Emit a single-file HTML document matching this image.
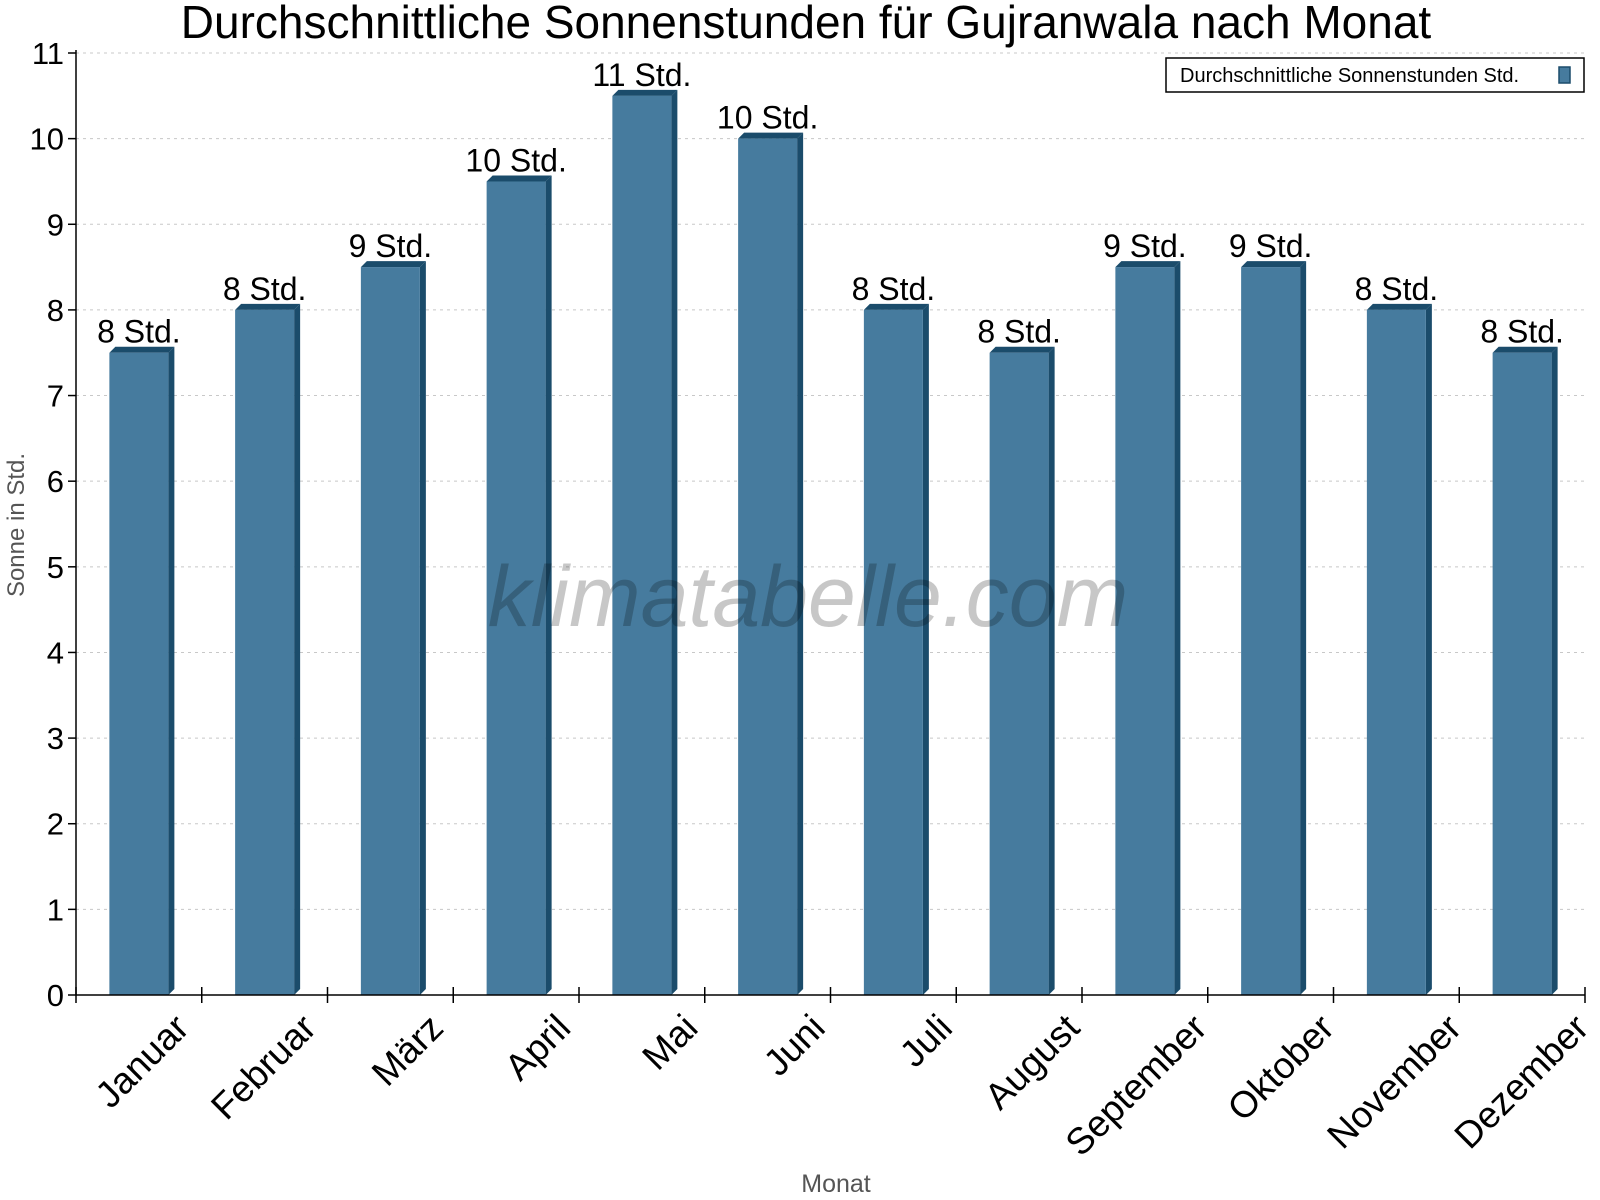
<!DOCTYPE html>
<html><head><meta charset="utf-8"><style>
html,body{margin:0;padding:0;background:#fff;}
svg{display:block;font-family:"Liberation Sans",Arial,sans-serif;}
</style></head><body>
<svg id="chart" width="1600" height="1200" viewBox="0 0 1600 1200">
<text x="806" y="38" font-size="46" text-anchor="middle" fill="#000">Durchschnittliche Sonnenstunden für Gujranwala nach Monat</text>
<g id="grid"></g>
<text x="0" y="0" transform="translate(24,525) rotate(-90)" font-size="24" fill="#555" text-anchor="middle">Sonne in Std.</text>
<text x="836" y="1192" font-size="25" fill="#555" text-anchor="middle">Monat</text>
<g id="bars"></g>
<g id="axes"></g>
<text x="808" y="626" font-size="86" font-style="italic" fill="#000" fill-opacity="0.22" text-anchor="middle">klimatabelle.com</text>
<g>
<rect x="1166" y="58" width="418" height="34" fill="#fff" stroke="#000" stroke-width="1.5"/>
<text x="1180" y="82" font-size="20" fill="#000">Durchschnittliche Sonnenstunden Std.</text>
<rect x="1559" y="67" width="11" height="16" fill="#467b9e" stroke="#1b4c6b" stroke-width="1.5"/>
</g>
</svg>
<script>
const months = ["Januar","Februar","März","April","Mai","Juni","Juli","August","September","Oktober","November","Dezember"];
const sunHours = [7.5,8,8.5,9.5,10.5,10,8,7.5,8.5,8.5,8,7.5];
const valueLabels = ["8 Std.","8 Std.","9 Std.","10 Std.","11 Std.","10 Std.","8 Std.","8 Std.","9 Std.","9 Std.","8 Std.","8 Std."];
const yTicks = [0,1,2,3,4,5,6,7,8,9,10,11];

const NS = "http://www.w3.org/2000/svg";
const X0 = 76, X1 = 1585, Y0 = 995, YMAX = 11, YTOP = 53;
const band = (X1 - X0) / months.length;
function xCenter(i){ return X0 + band * (i + 0.5); }
function yScale(v){ return Y0 - (Y0 - YTOP) * v / YMAX; }
function mk(tag, attrs, parent){ const e = document.createElementNS(NS, tag); for (const k in attrs) e.setAttribute(k, attrs[k]); parent.appendChild(e); return e; }

const grid = document.getElementById("grid");
const axes = document.getElementById("axes");
const bars = document.getElementById("bars");

yTicks.forEach(t => {
  const y = yScale(t);
  if (t > 0) {
    const g = mk("line", {x1:X0, x2:X1, y1:y, y2:y, stroke:"#c8c8c8", "stroke-width":1, "stroke-dasharray":"3,4"}, grid);
    
    
  }
  const tk = mk("line", {x1:X0-8, x2:X0, y1:y, y2:y, stroke:"#000", "stroke-width":1.5}, axes);
  
  
  const lb = mk("text", {x:X0-12, y:y+11, "font-size":31, "text-anchor":"end", fill:"#000"}, axes);
  lb.textContent = t;
  
  
});

const ya = mk("line", {x1:X0, x2:X0, y1:YTOP-3, y2:Y0, stroke:"#000", "stroke-width":1.5}, axes);


const xa = mk("line", {x1:X0, x2:X1, y1:Y0, y2:Y0, stroke:"#000", "stroke-width":1.5}, axes);


for (let i = 0; i <= months.length; i++) {
  const x = X0 + band * i;
  const t = mk("line", {x1:x, x2:x, y1:Y0-8, y2:Y0+8, stroke:"#000", "stroke-width":1.5}, axes);
  
  
}

const W = 59, D = 6;
months.forEach((m, i) => {
  const cx = xCenter(i), v = sunHours[i];
  const top = yScale(v), left = cx - W/2, right = cx + W/2;
  const g = mk("g", {}, bars);
  
  
  mk("polygon", {points:`${right},${top} ${right+D},${top-D} ${right+D},${Y0-D} ${right},${Y0}`, fill:"#1b4c6b"}, g);
  mk("polygon", {points:`${left},${top} ${left+D},${top-D} ${right+D},${top-D} ${right},${top}`, fill:"#1b4c6b"}, g);
  mk("rect", {x:left, y:top, width:W, height:Y0-top, fill:"#467b9e"}, g);
  const vl = mk("text", {x:cx, y:top-10, "font-size":32, "text-anchor":"middle", fill:"#000"}, bars);
  vl.textContent = valueLabels[i];
  
  
  const ax = cx + 52 + i * 1.5, ay = 1030;
  const xl = mk("text", {x:ax, y:ay, "font-size":37, "text-anchor":"end", fill:"#000", transform:`rotate(-45 ${ax} ${ay})`}, axes);
  xl.textContent = m;
  
  
});
</script>
</body></html>
